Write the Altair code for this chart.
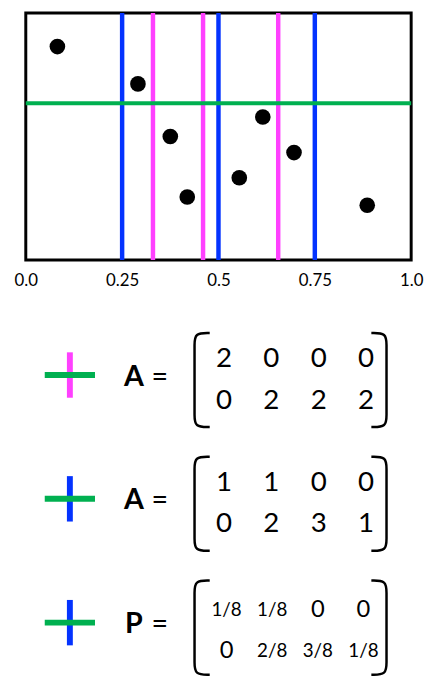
import altair as alt
import pandas as pd

# ---------------- data ----------------
pts_x = [0.082, 0.291, 0.375, 0.419, 0.554, 0.615, 0.696, 0.886]
pts_y = [0.864, 0.713, 0.500, 0.255, 0.333, 0.579, 0.435, 0.222]

uniform_cuts = [0.25, 0.5, 0.75]        # blue lines
quantile_cuts = [0.33, 0.46, 0.655]     # magenta lines
horizontal_cut = [0.635]                # green line

tick_values = [0, 0.25, 0.5, 0.75, 1.0]
tick_labels = ["0.0", "0.25", "0.5", "0.75", "1.0"]

matrix_names = ["A", "A", "P"]
matrix_grids = ["quantile", "uniform", "uniform"]
m1_row1 = ["2", "0", "0", "0"]
m1_row2 = ["0", "2", "2", "2"]
m2_row1 = ["1", "1", "0", "0"]
m2_row2 = ["0", "2", "3", "1"]
m3_row1 = ["1/8", "1/8", "0", "0"]
m3_row2 = ["0", "2/8", "3/8", "1/8"]
matrices = [[m1_row1, m1_row2], [m2_row1, m2_row2], [m3_row1, m3_row2]]

# ---------------- styles / layout ----------------
BLUE = "#0433FF"
MAGENTA = "#FF40FF"
GREEN = "#00B050"
FONT = "Lato"
grid_color = alt.Scale(domain=["quantile", "uniform"], range=[MAGENTA, BLUE])

W = 390
H1 = 250
H2 = 355

# ---------------- scatter panel ----------------
xs = alt.Scale(domain=[0, 1], nice=False, zero=False)
ys = alt.Scale(domain=[0, 1], nice=False, zero=False)

label_expr = " : ".join(
    f"datum.value == {v} ? '{t}'" for v, t in zip(tick_values, tick_labels)
) + " : ''"
x_axis = alt.Axis(values=tick_values, labelExpr=label_expr, grid=False, ticks=False,
                  domain=False, labelFontSize=17, labelFont=FONT, labelColor="black",
                  labelPadding=13, title=None, labelFlush=False)

pts_df = pd.DataFrame({"x": pts_x, "y": pts_y})
cuts_df = pd.DataFrame({
    "x": uniform_cuts + quantile_cuts,
    "grid": ["uniform"] * len(uniform_cuts) + ["quantile"] * len(quantile_cuts),
})
h_df = pd.DataFrame({"y": horizontal_cut})

vrules = alt.Chart(cuts_df).mark_rule(strokeWidth=4.5).encode(
    x=alt.X("x:Q", scale=xs, axis=x_axis),
    color=alt.Color("grid:N", scale=grid_color, legend=None),
)
hrule = alt.Chart(h_df).mark_rule(strokeWidth=4, color=GREEN).encode(
    y=alt.Y("y:Q", scale=ys, axis=None),
)
points = alt.Chart(pts_df).mark_circle(size=250, color="black", opacity=1).encode(
    x=alt.X("x:Q", scale=xs, axis=x_axis),
    y=alt.Y("y:Q", scale=ys, axis=None),
)
scatter = alt.layer(vrules, hrule, points).properties(
    width=W, height=H1,
    view=alt.ViewBackground(stroke="black", strokeWidth=3),
)

# ---------------- matrix panel ----------------
cs = alt.Scale(domain=[-4.18, 3.95], nice=False, zero=False)
ss = alt.Scale(domain=[-0.85, 7.65], nice=False, zero=False, reverse=True)

rows = []
for m, mat in enumerate(matrices):
    for r, row in enumerate(mat):
        for c, lab in enumerate(row):
            rows.append({"m": m, "r": r, "c": c, "label": lab})
entries_df = pd.DataFrame(rows)

head_df = pd.DataFrame({"m": [0, 1, 2], "name": matrix_names, "grid": matrix_grids})

X = lambda f: alt.X(f, scale=cs, axis=None)
Y = lambda f: alt.Y(f, scale=ss, axis=None)

big = alt.Chart(entries_df).transform_filter("datum.m < 2").transform_calculate(
    slot="3*datum.m + datum.r"
).mark_text(font=FONT, fontSize=28, align="center", baseline="middle", color="black").encode(
    x=X("c:Q"), y=Y("slot:Q"), text="label:N")

small_whole = alt.Chart(entries_df).transform_filter(
    "datum.m == 2 && indexof(datum.label, '/') < 0"
).transform_calculate(
    slot="3*datum.m + datum.r + 0.08", cx="0.056 + 0.9625*datum.c"
).mark_text(font=FONT, fontSize=24, align="center", baseline="middle", color="black").encode(
    x=X("cx:Q"), y=Y("slot:Q"), text="label:N")

small_frac = alt.Chart(entries_df).transform_filter(
    "datum.m == 2 && indexof(datum.label, '/') >= 0"
).transform_calculate(
    slot="3*datum.m + datum.r + 0.08", cx="0.056 + 0.9625*datum.c"
).mark_text(font=FONT, fontSize=19, align="center", baseline="middle", color="black").encode(
    x=X("cx:Q"), y=Y("slot:Q"), text="label:N")

names = alt.Chart(head_df).transform_calculate(
    cx="-1.90", cy="3*datum.m + 0.42"
).mark_text(font=FONT, fontSize=29, fontWeight="bold", align="center",
            baseline="middle", color="black").encode(
    x=X("cx:Q"), y=Y("cy:Q"), text="name:N")

equals = alt.Chart(head_df).transform_calculate(
    cx="-1.35", cy="3*datum.m + 0.42", eq="'='"
).mark_text(font=FONT, fontSize=29, align="center", baseline="middle", color="black").encode(
    x=X("cx:Q"), y=Y("cy:Q"), text="eq:N")

icon_v = alt.Chart(head_df).transform_calculate(
    cx="-3.25", y1="3*datum.m + 0.38 - 0.55", y2="3*datum.m + 0.38 + 0.55"
).mark_rule(strokeWidth=6).encode(
    x=X("cx:Q"), y=Y("y1:Q"), y2="y2:Q",
    color=alt.Color("grid:N", scale=grid_color, legend=None))

icon_h = alt.Chart(head_df).transform_calculate(
    x1="-3.78", x2="-2.72", cy="3*datum.m + 0.38"
).mark_rule(strokeWidth=6, color=GREEN).encode(
    x=X("x1:Q"), x2="x2:Q", y=Y("cy:Q"))

# bracket outlines (decoration): B-spline control polygons
brows = []
for m in range(len(matrices)):
    ctr = 3 * m + 0.5
    top, bot = ctr - 1.14, ctr + 1.14
    for side, stroke_c, hook_c in (("L", -0.62, -0.30), ("R", 3.43, 3.11)):
        poly = [(hook_c, top), (stroke_c, top), (stroke_c, top + 0.3), (stroke_c, top + 0.6),
                (stroke_c, bot - 0.6), (stroke_c, bot - 0.3), (stroke_c, bot), (hook_c, bot)]
        for k, (cx, cy) in enumerate(poly):
            brows.append({"bid": f"{m}{side}", "k": k, "bc": cx, "bs": cy})
br_df = pd.DataFrame(brows)

brackets = alt.Chart(br_df).mark_line(interpolate="basis", color="black", strokeWidth=2.5).encode(
    x=X("bc:Q"), y=Y("bs:Q"), detail="bid:N", order="k:Q")

lower = alt.layer(brackets, icon_v, icon_h, names, equals, big, small_whole, small_frac).properties(
    width=W, height=H2)

chart = alt.vconcat(scatter, lower, spacing=65, bounds="flush").properties(
    padding={"left": 4, "top": -3, "right": 0, "bottom": 0}
).configure_view(stroke="transparent")

chart.save("out.html", embed_options={"renderer": "svg", "actions": False})
